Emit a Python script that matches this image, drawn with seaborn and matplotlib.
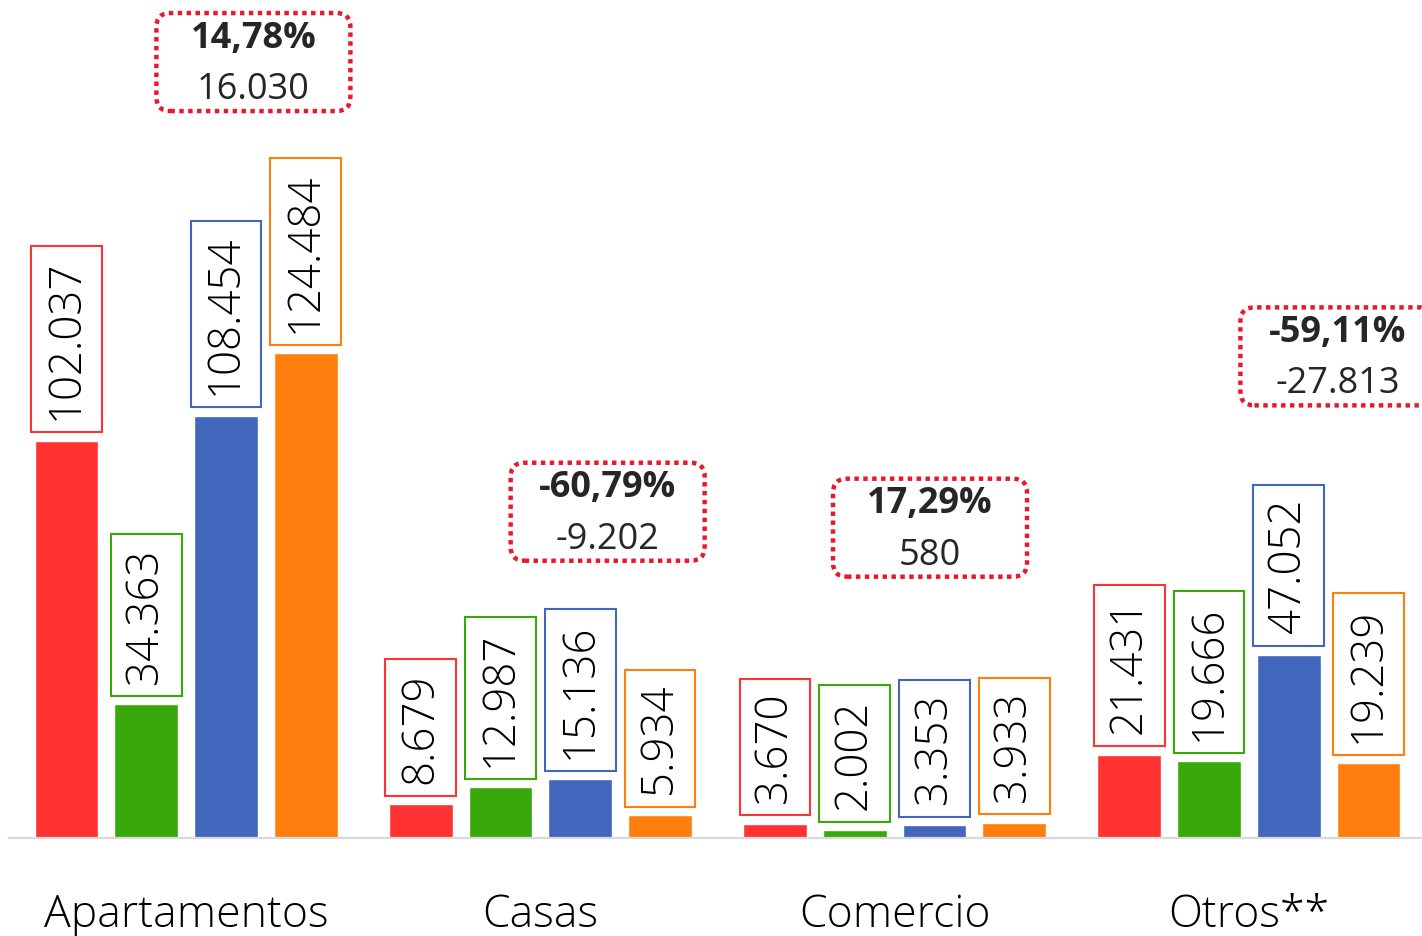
import numpy as np
import pandas as pd
import seaborn as sns
import matplotlib.pyplot as plt
from matplotlib.patches import FancyBboxPatch
from matplotlib.transforms import ScaledTranslation

# Data
categories = ['Apartamentos', 'Casas', 'Comercio', 'Otros**']
series = ['s1', 's2', 's3', 's4']
values_s1 = [102037, 8679, 3670, 21431]
values_s2 = [34363, 12987, 2002, 19666]
values_s3 = [108454, 15136, 3353, 47052]
values_s4 = [124484, 5934, 3933, 19239]
pct_labels = ['14,78%', '-60,79%', '17,29%', '-59,11%']
diff_labels = ['16.030', '-9.202', '580', '-27.813']

colors = ['#FF3333', '#38A80A', '#4366BD', '#FF7F0E']

df = pd.DataFrame({
    'categoria': categories * 4,
    'serie': np.repeat(series, 4),
    'valor': values_s1 + values_s2 + values_s3 + values_s4,
})

sns.set_theme(style='white')
plt.rcParams['font.family'] = ['Open Sans', 'DejaVu Sans']

fig = plt.figure(figsize=(14.22, 9.37), dpi=100)
ax = fig.add_axes([0.0063, 0.1046, 0.9965, 0.8954])

sns.barplot(data=df, x='categoria', y='valor', hue='serie', palette=colors,
            width=0.9, gap=0.2, legend=False, ax=ax, saturation=1)

ax.set_xlim(-0.5, 3.5)
ax.set_ylim(0, 215500)
ax.set_xlabel('')
ax.set_ylabel('')
ax.set_yticks([])
for s in ['top', 'left', 'right']:
    ax.spines[s].set_visible(False)
ax.spines['bottom'].set_color('#d9d9d9')
ax.spines['bottom'].set_linewidth(1.6)
ax.tick_params(axis='x', length=0, pad=39, labelsize=32, labelcolor='black')
for t in ax.get_xticklabels():
    t.set_fontweight('light')

# value labels in boxes
pad = 0.3
fs = 31.5
for cont, col in zip(ax.containers, colors):
    for bar in cont:
        h = bar.get_height()
        x = bar.get_x() + bar.get_width() / 2
        ax.annotate(f"{int(h):,}".replace(',', '.'), (x, h),
                    xytext=(0, 6 + pad * fs), textcoords='offset points',
                    rotation=90, ha='center', va='bottom', fontsize=fs,
                    fontweight='light', color='black',
                    bbox=dict(boxstyle=f'square,pad={pad}', fc='white',
                              ec=col, lw=1.5))

# change annotations (dotted boxes)
ann_x = [0.19, 0.19, 0.10, 0.25]
ann_y = [199300, 83800, 79700, 123700]
for i in range(4):
    cx = i + ann_x[i]
    cy = ann_y[i]
    tr = fig.dpi_scale_trans + ScaledTranslation(cx, cy, ax.transData)
    box = FancyBboxPatch((-0.97, -0.49), 1.94, 0.98,
                         boxstyle='round,pad=0,rounding_size=0.14',
                         transform=tr, fc='none', ec='#E8192C', lw=3.2,
                         linestyle=(0, (1, 1)), clip_on=False, zorder=5)
    ax.add_patch(box)
    ax.annotate(pct_labels[i], (cx, cy), xytext=(0, 17.5), textcoords='offset points',
                ha='center', va='center', fontsize=26, fontweight='bold',
                color='#262626', zorder=6)
    ax.annotate(diff_labels[i], (cx, cy), xytext=(0, -19.5), textcoords='offset points',
                ha='center', va='center', fontsize=26, color='#262626', zorder=6)

fig.savefig('out.png', dpi=100)
